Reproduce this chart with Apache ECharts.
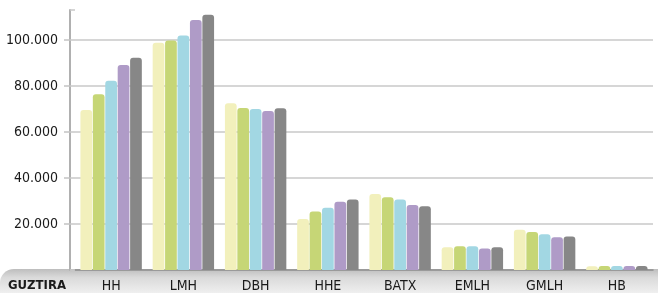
<!DOCTYPE html>
<html>
<head>
<meta charset="utf-8">
<script src="https://cdn.jsdelivr.net/npm/echarts@6/dist/echarts.min.js"></script>
<style>
html,body{margin:0;padding:0;background:#fff;}
#c{width:658px;height:293px;}
</style>
</head>
<body>
<div id="c"></div>
<script>
var categories = ['HH','LMH','DBH','HHE','BATX','EMLH','GMLH','HB'];
var s1 = [69500, 98800, 72500, 22200, 33000, 9900, 17500, 1600];
var s2 = [76400, 99700, 70400, 25400, 31600, 10300, 16500, 1700];
var s3 = [82200, 101900, 70000, 27100, 30600, 10300, 15500, 1700];
var s4 = [89100, 108700, 69100, 29700, 28300, 9300, 14200, 1700];
var s5 = [92200, 110900, 70300, 30600, 27700, 9900, 14600, 1700];
var seriesData = [s1, s2, s3, s4, s5];
var colors = ['#f2f0bc', '#c6d676', '#a2d7e3', '#af9bc7', '#878787'];
var rowLabel = 'GUZTIRA';

var FONT = '"DejaVu Sans Condensed", "Liberation Sans", sans-serif';
var chart = echarts.init(document.getElementById('c'), null, {renderer: 'canvas'});

function fmt(v) {
  return String(v).replace(/\B(?=(\d{3})+(?!\d))/g, '.');
}

var series = seriesData.map(function (d, i) {
  return {
    type: 'bar',
    data: d,
    barGap: '6%',
    barCategoryGap: '15%',
    itemStyle: {color: colors[i], borderRadius: [3, 3, 0, 0]},
    z: 3
  };
});

var yScale = {type: 'value', min: 0, max: 113000, interval: 20000, position: 'left', offset: 5};

chart.setOption({
  animation: false,
  grid: {left: 75, right: 5, top: 10, bottom: 23, containLabel: false, outerBoundsMode: 'none'},
  graphic: [
    {
      type: 'rect', z: -10, silent: true,
      shape: {x: 0, y: 269, width: 658, height: 24, r: [14, 0, 0, 0]},
      style: {
        fill: new echarts.graphic.LinearGradient(0, 0, 0, 1, [
          {offset: 0, color: '#bdbdbd'},
          {offset: 0.35, color: '#dadada'},
          {offset: 1, color: '#efefef'}
        ])
      }
    },
    {
      type: 'text', z: 100, silent: true,
      left: 8, top: 279,
      style: {text: rowLabel, font: 'bold 13px ' + FONT, fill: '#1a1a1a'}
    }
  ],
  xAxis: {
    type: 'category',
    data: categories,
    axisLine: {show: true, lineStyle: {color: '#8c8c8c', width: 1.5}},
    axisTick: {show: false},
    axisLabel: {margin: 9, color: '#1a1a1a', fontFamily: FONT, fontSize: 14}
  },
  yAxis: [
    Object.assign({}, yScale, {
      axisLine: {show: true, lineStyle: {color: '#b0b0b0', width: 2}},
      axisTick: {show: true, length: 6, lineStyle: {color: '#c4c4c4', width: 1.5}},
      splitLine: {show: true, lineStyle: {
        color: ['#c8c8c8', '#c8c8c8', '#c8c8c8', '#c8c8c8', '#c8c8c8', '#c8c8c8', 'rgba(0,0,0,0)'],
        width: 1.5}},
      axisLabel: {
        showMinLabel: false, showMaxLabel: false, margin: 12,
        color: '#1a1a1a', fontFamily: FONT, fontSize: 14,
        formatter: function (v) { return v === 0 ? '' : fmt(v); }
      }
    }),
    Object.assign({}, yScale, {
      axisLine: {show: false},
      axisTick: {show: true, inside: true, length: 5, lineStyle: {color: '#c8c8c8', width: 1.5}},
      splitLine: {show: false},
      axisLabel: {show: false}
    })
  ],
  series: series
});
</script>
</body>
</html>
